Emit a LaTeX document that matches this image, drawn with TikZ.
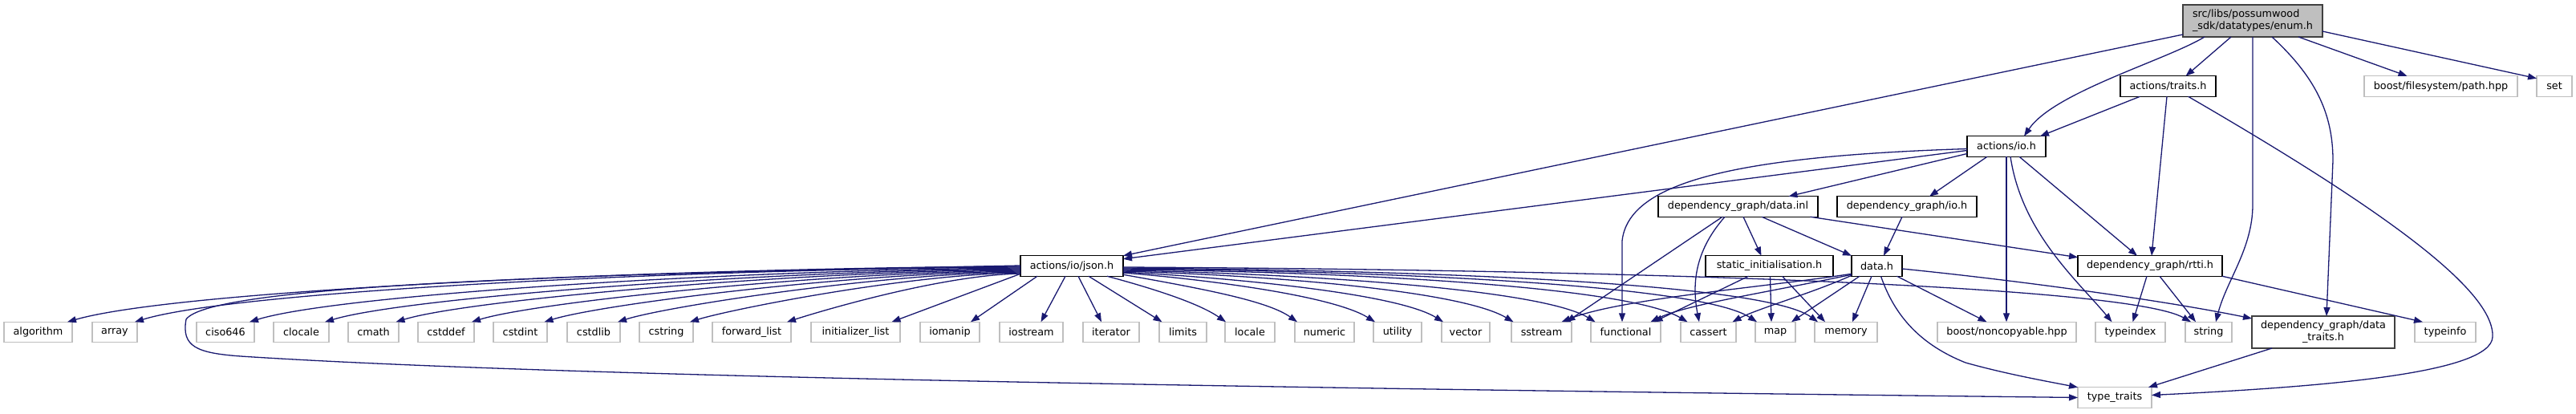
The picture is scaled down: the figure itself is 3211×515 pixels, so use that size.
\documentclass[tikz,border=0pt]{standalone}
\usepackage{fontspec}
\setmainfont{DejaVu Sans}
\usetikzlibrary{arrows.meta}
\definecolor{edgec}{HTML}{191970}
\definecolor{sysc}{HTML}{BFBFBF}
\definecolor{darkc}{HTML}{404040}
\definecolor{enumfill}{HTML}{BFBFBF}
\tikzset{
 every node/.style={font=\fontsize{12.8pt}{15pt}\selectfont, inner sep=0pt, outer sep=0pt},
 sysbox/.style={draw=sysc, fill=white, line width=1.3pt, minimum height=25.5pt},
 projbox/.style={draw=black, fill=white, line width=1.3pt, minimum height=25.5pt},
 dep/.style={draw=edgec, line width=1.3pt, -{Triangle[length=11pt,width=8pt]}},
}
\begin{document}
\begin{tikzpicture}[x=1pt,y=-1pt]
\useasboundingbox (0,0) rectangle (3211,515);
% top
\node[projbox, fill=enumfill, draw=darkc, minimum width=174pt, minimum height=40pt, align=left] (enum) at (2808,26) {src/libs/possumwood\\\_sdk/datatypes/enum.h};
\node[projbox, minimum width=119pt] (traits) at (2702.5,107.5) {actions/traits.h};
\node[sysbox, minimum width=191pt] (bpath) at (3042.5,107.5) {boost/filesystem/path.hpp};
\node[sysbox, minimum width=44pt] (set) at (3184,107.5) {set};
\node[projbox, minimum width=98pt] (io) at (2501,182.5) {actions/io.h};
\node[projbox, minimum width=199pt] (datainl) at (2166.5,257.5) {dependency\_graph/data.inl};
\node[projbox, minimum width=174pt] (dgio) at (2377,257.5) {dependency\_graph/io.h};
\node[projbox, minimum width=128pt] (json) at (1336,331.5) {actions/io/json.h};
\node[projbox, minimum width=159pt] (static) at (2205.5,331.5) {static\_initialisation.h};
\node[projbox, minimum width=63pt] (datah) at (2339.5,331.5) {data.h};
\node[projbox, minimum width=180pt] (rtti) at (2680,331.5) {dependency\_graph/rtti.h};
% bottom row
\node[sysbox, minimum width=85pt] (algorithm) at (47.5,414) {algorithm};
\node[sysbox, minimum width=56pt] (array) at (143,414) {array};
\node[sysbox, minimum width=72pt] (ciso) at (281,414) {ciso646};
\node[sysbox, minimum width=69pt] (clocale) at (375.5,414) {clocale};
\node[sysbox, minimum width=63pt] (cmath) at (465.5,414) {cmath};
\node[sysbox, minimum width=70pt] (cstddef) at (556,414) {cstddef};
\node[sysbox, minimum width=67pt] (cstdint) at (648.5,414) {cstdint};
\node[sysbox, minimum width=66pt] (cstdlib) at (740,414) {cstdlib};
\node[sysbox, minimum width=67pt] (cstring) at (830.5,414) {cstring};
\node[sysbox, minimum width=98pt] (fwdlist) at (937,414) {forward\_list};
\node[sysbox, minimum width=111pt] (initlist) at (1066.5,414) {initializer\_list};
\node[sysbox, minimum width=74pt] (iomanip) at (1184,414) {iomanip};
\node[sysbox, minimum width=79pt] (iostream) at (1285.5,414) {iostream};
\node[sysbox, minimum width=70pt] (iterator) at (1385,414) {iterator};
\node[sysbox, minimum width=59pt] (limits) at (1474.5,414) {limits};
\node[sysbox, minimum width=62pt] (locale) at (1558,414) {locale};
\node[sysbox, minimum width=74pt] (numeric) at (1651,414) {numeric};
\node[sysbox, minimum width=60pt] (utility) at (1742,414) {utility};
\node[sysbox, minimum width=60pt] (vector) at (1827,414) {vector};
\node[sysbox, minimum width=75pt] (sstream) at (1921.5,414) {sstream};
\node[sysbox, minimum width=87pt] (functional) at (2026.5,414) {functional};
\node[sysbox, minimum width=69pt] (cassert) at (2129.5,414) {cassert};
\node[sysbox, minimum width=50pt] (map) at (2213,414) {map};
\node[sysbox, minimum width=78pt] (memory) at (2301,414) {memory};
\node[sysbox, minimum width=173pt] (noncopy) at (2501.5,414) {boost/noncopyable.hpp};
\node[sysbox, minimum width=87pt] (typeindex) at (2655.5,414) {typeindex};
\node[sysbox, minimum width=58pt] (string) at (2753,414) {string};
\node[projbox, draw=darkc, line width=1.6pt, minimum width=178pt, minimum height=40pt, align=center] (dtraits) at (2896,414) {dependency\_graph/data\\\_traits.h};
\node[sysbox, minimum width=76pt] (typeinfo) at (3048,414) {typeinfo};
\node[sysbox, minimum width=92pt] (ttraits) at (2636,495.5) {type\_traits};

% enum.h
\draw[dep] ([yshift=3pt]enum.south west) -- (json.north east);
\draw[dep] ([xshift=27pt]enum.south west) .. controls (2700,75) and (2560,115) .. ([xshift=22pt]io.north);
\draw[dep] ([xshift=60pt]enum.south west) -- ([xshift=22pt]traits.north);
\draw[dep] (enum.south) -- (2808,255) .. controls (2808,310) and (2775,350) .. ([xshift=9pt]string.north);
\draw[dep] ([xshift=24pt]enum.south) .. controls (2885,95) and (2908,140) .. (2908,200) -- ([xshift=4pt]dtraits.north);
\draw[dep] ([xshift=57pt]enum.south) -- ([xshift=-42pt]bpath.north);
\draw[dep] ([yshift=-13pt]enum.east) -- ([yshift=-3pt]set.north west);
% traits.h
\draw[dep] ([xshift=-35pt]traits.south) -- ([xshift=42pt]io.north);
\draw[dep] ([xshift=-1.5pt]traits.south) -- ([xshift=2pt]rtti.north);
\draw[dep] ([xshift=25pt]traits.south) .. controls (2960,255) and (3110,360) .. (3107,420) .. controls (3105,465) and (2900,482) .. ([yshift=3pt]ttraits.east);
% io.h
\draw[dep] ([yshift=-5pt]io.west) -- ([yshift=-4pt]json.north east);
\draw[dep] ([yshift=-3pt]io.west) .. controls (2150,195) and (2030,230) .. (2022,300) -- ([xshift=-4.5pt]functional.north);
\draw[dep] ([yshift=-9pt]io.west) -- ([xshift=63pt]datainl.north);
\draw[dep] ([xshift=-24pt]io.south) -- ([xshift=28pt]dgio.north);
\draw[dep] (io.south) -- (io.south |- noncopy.north);
\draw[dep] ([xshift=5pt]io.south) .. controls (2520,290) and (2590,350) .. ([xshift=-23pt]typeindex.north);
\draw[dep] ([xshift=16pt]io.south) -- ([xshift=-16pt]rtti.north);
% data.inl
\draw[dep] ([xshift=6.5pt]datainl.south) -- ([xshift=-10pt]static.north);
\draw[dep] ([xshift=29.5pt]datainl.south) -- (datah.north west);
\draw[dep] ([xshift=90pt]datainl.south) -- ([yshift=-2pt]rtti.north west);
\draw[dep] ([xshift=-19.5pt]datainl.south) -- ([xshift=31pt]sstream.north);
\draw[dep] ([xshift=-16.5pt]datainl.south) .. controls (2115,310) and (2108,350) .. ([xshift=-11.5pt]cassert.north);
% dependency_graph/io.h
\draw[dep] ([xshift=-6pt]dgio.south) -- ([xshift=8.5pt]datah.north);
% data.h
\draw[dep] ([yshift=3pt]datah.south west) .. controls (2200,358) and (2020,372) .. ([xshift=25pt]sstream.north);
\draw[dep] ([yshift=2pt]datah.south west) .. controls (2200,365) and (2100,380) .. ([xshift=31pt]functional.north);
\draw[dep] ([yshift=1pt]datah.south west) .. controls (2260,365) and (2190,385) .. ([xshift=30pt]cassert.north);
\draw[dep] ([xshift=10pt]datah.south west) -- ([xshift=20pt]map.north);
\draw[dep] ([xshift=25pt]datah.south west) -- ([xshift=8pt]memory.north);
\draw[dep] ([xshift=25pt]datah.south) -- ([xshift=-25pt]noncopy.north);
\draw[dep] ([xshift=5pt]datah.south) .. controls (2362,395) and (2395,430) .. (2450,452) .. controls (2500,466) and (2550,475) .. (ttraits.north west);
\draw[dep] ([yshift=-3.5pt]datah.east) .. controls (2520,350) and (2700,375) .. ([yshift=-3pt]dtraits.north west);
% static_initialisation.h
\draw[dep] ([xshift=-26pt]static.south) -- ([xshift=35pt]functional.north);
\draw[dep] ([xshift=1pt]static.south) -- ([xshift=-5pt]map.north);
\draw[dep] ([xshift=16pt]static.south) -- ([xshift=-26pt]memory.north);
% rtti.h
\draw[dep] ([xshift=-4pt]rtti.south) -- ([xshift=3pt]typeindex.north);
\draw[dep] ([xshift=12pt]rtti.south) -- ([xshift=-16pt]string.north);
\draw[dep] (rtti.south east) -- ([xshift=-28pt]typeinfo.north);
% data_traits.h
\draw[dep] ([xshift=-64pt]dtraits.south) -- ([xshift=-4pt]ttraits.north east);
% json.h left fan
\draw[dep] ([yshift=-0.5pt]json.west) .. controls (856,334) and (227,360) .. ([xshift=36.5pt]algorithm.north);
\draw[dep] ([yshift=-1.5pt]json.west) .. controls (886,335) and (300,361) .. ([xshift=25pt]array.north);
\draw[dep] ([yshift=-2.5pt]json.west) .. controls (936,336) and (426,366) .. ([xshift=30pt]ciso.north);
\draw[dep] ([yshift=-3.5pt]json.west) .. controls (969,337) and (509,370) .. ([xshift=29.5pt]clocale.north);
\draw[dep] ([yshift=-4.5pt]json.west) .. controls (999,338) and (586,373) .. ([xshift=28pt]cmath.north);
\draw[dep] ([yshift=-5.5pt]json.west) .. controls (1033,339) and (670,376) .. ([xshift=32pt]cstddef.north);
\draw[dep] ([yshift=-6.5pt]json.west) .. controls (1064,340) and (750,379) .. ([xshift=30pt]cstdint.north);
\draw[dep] ([yshift=-7.5pt]json.west) .. controls (1096,341) and (830,382) .. ([xshift=30pt]cstdlib.north);
\draw[dep] ([yshift=-8.5pt]json.west) .. controls (1128,342) and (909,386) .. ([xshift=29.5pt]cstring.north);
\draw[dep] ([yshift=-9.5pt]json.west) .. controls (1170,343) and (1016,390) .. ([xshift=44pt]fwdlist.north);
\draw[dep] ([yshift=0.5pt]json.west) .. controls (700,342) and (262,356) .. (232,398) .. controls (226,432) and (245,440) .. (300,444) .. controls (700,470) and (1600,484) .. (ttraits.west);
% json.h middle fan
\draw[dep] ([yshift=3pt]json.south west) -- ([xshift=45pt]initlist.north);
\draw[dep] ([xshift=21pt]json.south west) -- ([xshift=26pt]iomanip.north);
\draw[dep] ([xshift=-8pt]json.south) -- ([xshift=12pt]iostream.north);
\draw[dep] ([xshift=8pt]json.south) -- ([xshift=-12pt]iterator.north);
\draw[dep] ([xshift=21pt]json.south) -- ([xshift=-26pt]limits.north);
\draw[dep] ([xshift=44pt]json.south) .. controls (1420,355) and (1490,375) .. ([xshift=-30pt]locale.north);
\draw[dep] ([yshift=2pt]json.south east) .. controls (1500,360) and (1580,375) .. ([xshift=-34pt]numeric.north);
% json.h right fan
\draw[dep] ([yshift=-8.5pt]json.east) .. controls (1500,348) and (1660,368) .. ([xshift=-28pt]utility.north);
\draw[dep] ([yshift=-7.5pt]json.east) .. controls (1530,346) and (1740,365) .. ([xshift=-28pt]vector.north);
\draw[dep] ([yshift=-6.5pt]json.east) .. controls (1580,343) and (1820,362) .. ([xshift=-35pt]sstream.north);
\draw[dep] ([yshift=-5.5pt]json.east) .. controls (1620,341) and (1920,360) .. ([xshift=-38pt]functional.north);
\draw[dep] ([yshift=-4.5pt]json.east) .. controls (1700,339) and (2030,358) .. ([xshift=-26pt]cassert.north);
\draw[dep] ([yshift=-3.5pt]json.east) .. controls (1750,338) and (2120,356) .. ([xshift=-23pt]map.north);
\draw[dep] ([yshift=-2.5pt]json.east) .. controls (1800,337) and (2200,354) .. ([xshift=-35pt]memory.north);
\draw[dep] ([yshift=-1.5pt]json.east) .. controls (2000,336) and (2650,355) .. ([xshift=-22pt]string.north);
\end{tikzpicture}
\end{document}
